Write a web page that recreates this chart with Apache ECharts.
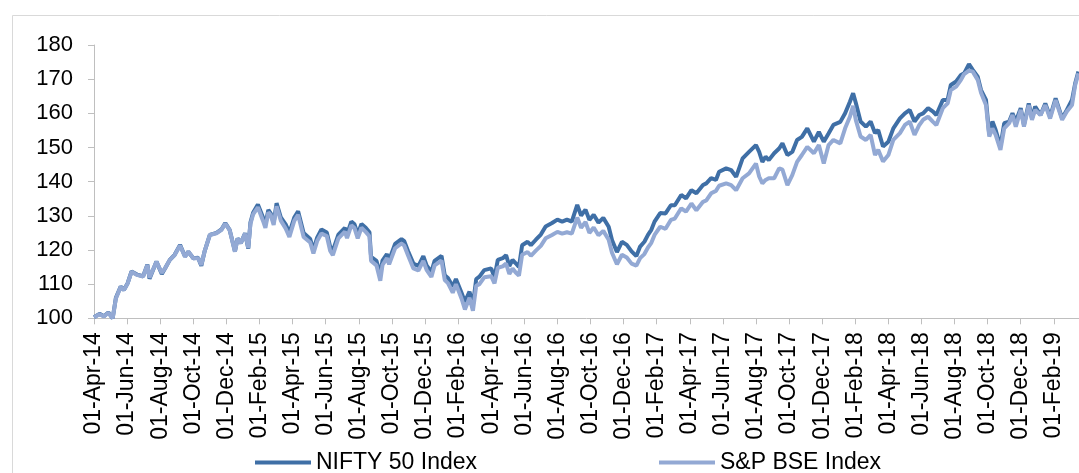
<!DOCTYPE html>
<html>
<head>
<meta charset="utf-8">
<script src="https://cdn.jsdelivr.net/npm/echarts@6/dist/echarts.min.js"></script>
<style>
html,body{margin:0;padding:0;background:#fff;}
#chart{width:1079px;height:473px;}
</style>
</head>
<body>
<div id="chart"></div>
<script>
const dates = [
'2014-04-01','2014-04-11','2014-04-19','2014-04-27','2014-05-05','2014-05-11','2014-05-20','2014-05-26',
'2014-06-02','2014-06-09','2014-06-19','2014-06-30','2014-07-08','2014-07-12','2014-07-25','2014-08-04',
'2014-08-10','2014-08-19','2014-08-28','2014-09-07','2014-09-16','2014-09-22','2014-10-01','2014-10-10',
'2014-10-16','2014-10-22','2014-11-01','2014-11-13','2014-11-22','2014-11-29','2014-12-07','2014-12-17',
'2014-12-22','2014-12-28','2015-01-05','2015-01-11','2015-01-15','2015-01-20','2015-01-29','2015-02-07',
'2015-02-11','2015-02-16','2015-02-20','2015-02-25','2015-03-02','2015-03-10','2015-03-19','2015-03-26',
'2015-04-04','2015-04-11','2015-04-21','2015-05-03','2015-05-09','2015-05-16','2015-05-24','2015-06-03',
'2015-06-09','2015-06-14','2015-06-24','2015-07-06','2015-07-10','2015-07-18','2015-07-24','2015-07-30',
'2015-08-06','2015-08-14','2015-08-21','2015-08-24','2015-09-03','2015-09-10','2015-09-14','2015-09-22',
'2015-09-26','2015-10-07','2015-10-19','2015-10-24','2015-10-31','2015-11-10','2015-11-19','2015-11-28',
'2015-12-04','2015-12-13','2015-12-19','2016-01-01','2016-01-07','2016-01-13','2016-01-22','2016-01-28',
'2016-02-07','2016-02-13','2016-02-21','2016-02-27','2016-03-04','2016-03-10','2016-03-19','2016-04-01',
'2016-04-07','2016-04-13','2016-04-22','2016-04-28','2016-05-04','2016-05-10','2016-05-16','2016-05-22',
'2016-05-28','2016-06-07','2016-06-13','2016-06-22','2016-07-01','2016-07-10','2016-07-22','2016-08-01',
'2016-08-10','2016-08-19','2016-08-28','2016-09-07','2016-09-14','2016-09-22','2016-09-29','2016-10-07',
'2016-10-16','2016-10-25','2016-11-04','2016-11-10','2016-11-19','2016-11-28','2016-12-07','2016-12-16',
'2016-12-25','2017-01-01','2017-01-09','2017-01-16','2017-01-22','2017-01-28','2017-02-07','2017-02-16',
'2017-02-25','2017-03-04','2017-03-16','2017-03-25','2017-04-04','2017-04-13','2017-04-16','2017-04-25',
'2017-05-01','2017-05-10','2017-05-19','2017-05-25','2017-06-07','2017-06-16','2017-06-25','2017-07-07',
'2017-07-19','2017-08-01','2017-08-07','2017-08-13','2017-08-19','2017-08-25','2017-09-04','2017-09-13',
'2017-09-19','2017-09-28','2017-10-07','2017-10-16','2017-10-25','2017-11-04','2017-11-16','2017-11-25',
'2017-12-04','2017-12-13','2017-12-22','2018-01-04','2018-01-13','2018-01-22','2018-01-28','2018-02-02',
'2018-02-10','2018-02-19','2018-02-27','2018-03-07','2018-03-13','2018-03-22','2018-04-01','2018-04-10',
'2018-04-22','2018-05-01','2018-05-10','2018-05-19','2018-05-28','2018-06-04','2018-06-13','2018-06-22',
'2018-06-28','2018-07-10','2018-07-19','2018-07-25','2018-08-04','2018-08-13','2018-08-19','2018-08-28',
'2018-09-04','2018-09-13','2018-09-19','2018-09-28','2018-10-04','2018-10-10','2018-10-16','2018-10-25',
'2018-11-01','2018-11-10','2018-11-16','2018-11-22','2018-12-01','2018-12-07','2018-12-16','2018-12-22',
'2018-12-28','2019-01-07','2019-01-16','2019-01-25','2019-02-04','2019-02-15','2019-02-23','2019-03-04',
'2019-03-10','2019-03-16'
];

const nifty = [
100.3,101.3,100.6,101.7,100.0,106.0,109.3,108.3,
110.3,113.7,112.8,112.3,115.7,111.6,116.6,113.0,
114.6,117.1,118.6,121.5,118.1,119.5,117.6,117.7,
115.4,119.5,124.4,125.0,126.0,127.9,125.9,119.6,
123.4,122.0,124.9,120.4,128.0,130.9,133.3,129.5,
127.5,131.7,130.7,128.0,133.7,129.5,127.5,125.0,
129.5,131.3,125.0,123.2,120.0,123.6,126.0,125.1,
121.0,119.8,124.5,126.5,124.6,128.3,127.5,124.6,
127.6,126.5,125.2,118.0,116.8,112.8,116.9,118.8,
117.0,121.8,123.2,122.6,119.8,116.0,115.3,118.2,
115.5,113.6,116.8,118.3,112.6,111.8,109.3,111.5,
107.5,104.8,107.8,104.0,111.5,112.2,114.1,114.6,
112.0,117.1,117.6,118.5,115.3,117.1,116.1,115.0,
121.4,122.4,121.4,123.0,124.5,126.9,127.9,128.9,
128.3,128.9,128.3,133.2,130.1,131.8,128.8,130.3,
128.0,129.4,126.8,122.9,119.4,122.4,121.5,119.6,
118.2,121.0,122.4,124.5,125.9,128.3,130.8,130.7,
133.1,133.1,136.1,135.1,137.5,136.6,136.1,139.0,
139.5,141.0,140.5,142.9,143.9,143.4,141.4,146.8,
148.7,150.7,148.7,145.8,147.3,146.3,148.3,149.7,
151.2,147.8,148.7,152.2,153.1,155.6,151.7,154.6,
151.7,154.1,156.6,157.5,160.0,163.4,165.9,163.0,
157.6,156.1,157.6,154.2,155.1,150.3,151.7,155.6,
158.5,160.0,161.0,157.6,159.5,160.0,161.5,160.5,
159.5,163.9,163.9,168.3,169.3,171.2,171.7,174.4,
172.7,170.7,166.8,163.9,153.7,157.6,155.1,150.3,
157.1,157.6,160.0,157.6,161.5,156.6,162.9,158.5,
162.0,159.5,162.9,159.0,164.4,158.5,161.0,163.9,
168.8,172.2
];

const bse = [
100.3,101.2,100.5,101.6,100.0,105.8,109.2,108.3,
110.2,113.6,112.7,112.2,115.6,111.9,116.5,113.3,
114.6,117.1,118.5,121.3,118.0,119.5,117.6,117.6,
115.6,119.5,124.4,124.9,125.9,127.7,125.9,119.5,
123.3,122.0,124.8,120.6,127.6,130.4,132.5,128.5,
126.5,131.0,130.2,127.3,132.8,128.6,126.3,123.8,
128.5,130.3,123.8,122.2,119.0,122.6,124.8,124.1,
119.8,118.5,123.4,125.4,123.5,127.2,126.4,123.4,
126.5,125.3,124.0,116.8,115.5,111.0,115.6,117.6,
115.8,120.5,121.9,121.3,118.5,114.6,114.0,116.8,
114.2,112.1,115.5,116.9,111.2,110.3,107.5,110.0,
105.8,102.6,106.0,102.2,109.5,110.0,112.0,112.3,
110.2,114.8,115.2,116.0,113.0,114.6,113.4,112.5,
118.6,119.4,118.3,119.8,121.2,123.4,124.4,125.3,
124.8,125.2,124.8,129.5,126.5,128.2,125.0,126.6,
124.3,125.6,123.0,119.2,115.8,118.6,117.8,116.0,
115.4,117.6,118.8,120.8,122.1,124.4,126.8,126.2,
128.8,129.2,132.2,131.2,133.6,131.6,131.2,134.1,
134.5,136.6,137.3,138.8,139.5,139.0,137.5,141.0,
142.4,145.3,141.5,139.5,140.5,141.0,141.0,143.9,
143.5,139.0,141.9,145.8,147.8,150.2,148.3,150.7,
145.3,150.7,152.2,151.2,155.6,159.0,162.2,158.0,
153.2,152.2,153.7,147.8,149.3,145.9,147.8,152.2,
154.2,156.6,157.6,153.7,156.6,158.1,159.0,157.5,
156.6,161.5,162.9,166.8,167.8,169.8,171.5,172.5,
172.2,169.8,166.0,162.4,153.2,155.6,153.7,149.3,
155.6,157.1,159.5,156.1,161.0,156.1,162.4,158.1,
161.0,159.5,162.4,158.5,163.9,158.1,160.5,162.4,
168.3,171.7
];

const monthNames = ['Jan','Feb','Mar','Apr','May','Jun','Jul','Aug','Sep','Oct','Nov','Dec'];
const yTicks = {min: 100, max: 180, step: 10};

function toMonths(s) {
  const p = s.split('-').map(Number);
  const dim = new Date(p[0], p[1], 0).getDate();
  return (p[0] - 2014) * 12 + (p[1] - 4) + (p[2] - 1) / dim;
}
function monthLabel(m) {
  const r = Math.round(m);
  if (Math.abs(m - r) > 1e-6) return '';
  const idx = 3 + r;
  const y = 2014 + Math.floor(idx / 12);
  return '01-' + monthNames[idx % 12] + '-' + String(y).slice(2);
}

const niftyData = dates.map((d, i) => [toMonths(d), nifty[i]]);
const bseData = dates.map((d, i) => [toMonths(d), bse[i]]);

const FONT = 'Arial, "Liberation Sans", sans-serif';
const chart = echarts.init(document.getElementById('chart'), null, {renderer: 'canvas'});
chart.setOption({
  animation: false,
  backgroundColor: '#ffffff',
  graphic: [{
    type: 'rect', left: 10, top: 13, z: -10, silent: true,
    shape: {x: 0, y: 0, width: 1200, height: 600},
    style: {fill: 'none', stroke: '#d9d9d9', lineWidth: 1}
  }],
  grid: {left: 94, right: 0, top: 45, bottom: 154.7, containLabel: false},
  legend: [{
    left: 250, top: 446, itemWidth: 56, itemHeight: 4, icon: 'rect',
    data: ['NIFTY 50 Index'],
    textStyle: {fontFamily: FONT, fontSize: 23, color: '#000'}
  }, {
    left: 654, top: 446, itemWidth: 56, itemHeight: 4, icon: 'rect',
    data: ['S&P BSE Index'],
    textStyle: {fontFamily: FONT, fontSize: 23, color: '#000'}
  }],
  xAxis: {
    type: 'value', min: 0, max: 59.52, interval: 2,
    axisLine: {show: true, lineStyle: {color: '#bfbfbf', width: 1}},
    axisTick: {show: true, length: 6, lineStyle: {color: '#bfbfbf'}},
    splitLine: {show: false},
    axisLabel: {
      rotate: 90, margin: 14, color: '#000', fontFamily: FONT, fontSize: 23,
      showMaxLabel: false, formatter: monthLabel
    }
  },
  yAxis: {
    type: 'value', min: yTicks.min, max: yTicks.max, interval: yTicks.step,
    axisLine: {show: true, lineStyle: {color: '#bfbfbf', width: 1}},
    axisTick: {show: true, length: 6, lineStyle: {color: '#bfbfbf'}},
    splitLine: {show: false},
    axisLabel: {margin: 21, color: '#000', fontFamily: FONT, fontSize: 22}
  },
  series: [{
    name: 'NIFTY 50 Index', type: 'line', data: niftyData, showSymbol: false, symbol: 'none',
    lineStyle: {color: '#3f6fa6', width: 4}, itemStyle: {color: '#3f6fa6'}
  }, {
    name: 'S&P BSE Index', type: 'line', data: bseData, showSymbol: false, symbol: 'none',
    lineStyle: {color: '#93a9d4', width: 4}, itemStyle: {color: '#93a9d4'}
  }]
});
</script>
</body>
</html>
